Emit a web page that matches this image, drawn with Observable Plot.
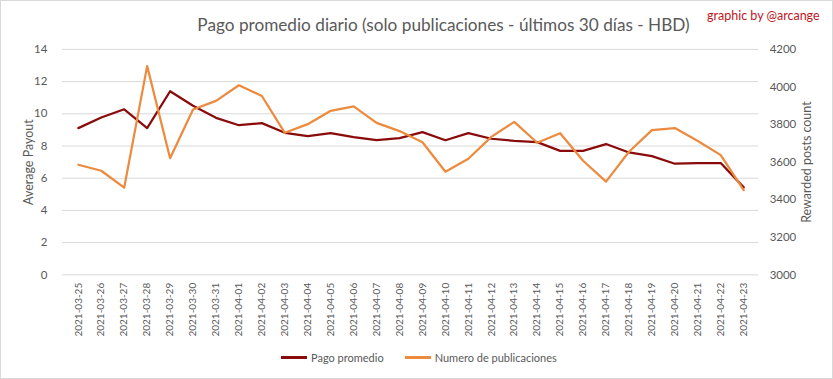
<!DOCTYPE html>
<html>
<head>
<meta charset="utf-8">
<script src="https://cdn.jsdelivr.net/npm/d3@7"></script>
<script src="https://cdn.jsdelivr.net/npm/@observablehq/plot@0.6"></script>
<style>
  html, body { margin: 0; padding: 0; background: #fff; }
  #wrap { position: relative; width: 833px; height: 379px; box-sizing: border-box; border: 1px solid #d9d9d9; overflow: hidden; font-family: Lato, "Open Sans", sans-serif; }
  #chart { position: absolute; left: -1px; top: -1px; }
  #title { position: absolute; left: 0; width: 885px; top: 13px; text-align: center; font-size: 17.2px; color: #595959; white-space: nowrap; }
  #sig { position: absolute; left: 706px; top: 7px; font-size: 12.5px; color: #c0161e; white-space: nowrap; }
  #legend { position: absolute; top: 350px; left: 280px; font-size: 11px; color: #595959; white-space: nowrap; display: flex; align-items: center; }
  .sw { display: inline-block; width: 26px; height: 2.5px; margin-right: 4px; }
  .item { display: flex; align-items: center; margin-right: 21px; }
</style>
</head>
<body>
<div id="wrap">
  <div id="chart"></div>
  <div id="title">Pago promedio diario (solo publicaciones - últimos 30 días - HBD)</div>
  <div id="sig">graphic by @arcange</div>
  <div id="legend">
    <span class="item"><span class="sw" style="background:#8a0b0b"></span>Pago promedio</span>
    <span class="item"><span class="sw" style="background:#ec8a3e"></span>Numero de publicaciones</span>
  </div>
</div>
<script>
const dates = ["2021-03-25","2021-03-26","2021-03-27","2021-03-28","2021-03-29","2021-03-30","2021-03-31",
  "2021-04-01","2021-04-02","2021-04-03","2021-04-04","2021-04-05","2021-04-06","2021-04-07","2021-04-08",
  "2021-04-09","2021-04-10","2021-04-11","2021-04-12","2021-04-13","2021-04-14","2021-04-15","2021-04-16",
  "2021-04-17","2021-04-18","2021-04-19","2021-04-20","2021-04-21","2021-04-22","2021-04-23"];
const pagoPromedio = [9.11, 9.77, 10.28, 9.11, 11.4, 10.5, 9.75, 9.29, 9.42, 8.82, 8.61, 8.8, 8.55, 8.36, 8.49,
  8.86, 8.36, 8.8, 8.45, 8.32, 8.24, 7.7, 7.7, 8.12, 7.6, 7.37, 6.9, 6.94, 6.94, 5.43];
const numeroPublicaciones = [3586, 3554, 3464, 4111, 3621, 3880, 3926, 4009, 3952, 3756, 3802, 3873, 3897, 3809, 3765,
  3706, 3549, 3618, 3734, 3814, 3703, 3754, 3607, 3496, 3655, 3770, 3781, 3712, 3637, 3451];
const leftTicks = [0, 2, 4, 6, 8, 10, 12, 14];
const rightTicks = [3000, 3200, 3400, 3600, 3800, 4000, 4200];
const leftMax = 14, rightMin = 3000, rightMax = 4200;
const toLeft = r => (r - rightMin) / (rightMax - rightMin) * leftMax;
const toRight = l => rightMin + l / leftMax * (rightMax - rightMin);

const data = dates.map((d, i) => ({date: d, pago: pagoPromedio[i], num: toLeft(numeroPublicaciones[i])}));

const chart = Plot.plot({
  width: 834, height: 380,
  marginTop: 49, marginBottom: 105, marginLeft: 62, marginRight: 74,
  style: {fontFamily: "Lato, 'Open Sans', sans-serif", fontSize: "12px", color: "#595959", background: "transparent"},
  x: {type: "point", domain: dates, padding: 0.5, label: null},
  y: {domain: [0, leftMax], label: null},
  marks: [
    Plot.ruleY(leftTicks, {stroke: "#d9d9d9", strokeWidth: 1}),
    Plot.axisY({ticks: leftTicks, tickSize: 0, tickPadding: 15, label: null, fontSize: 11.5}),
    Plot.axisY({anchor: "right", ticks: rightTicks.map(toLeft), tickFormat: v => String(Math.round(toRight(v))), tickSize: 0, tickPadding: 11, label: null, fontSize: 11.5}),
    Plot.axisX({tickRotate: -90, tickSize: 0, tickPadding: 8, label: null, fontSize: 10}),
    Plot.text(["Average Payout"], {frameAnchor: "left", textAnchor: "middle", lineAnchor: "middle", dx: -33, rotate: -90, fontSize: 12.5, fill: "#595959"}),
    Plot.text(["Rewarded posts count"], {frameAnchor: "right", textAnchor: "middle", lineAnchor: "middle", dx: 48, rotate: -90, fontSize: 12.5, fill: "#595959"}),
    Plot.line(data, {x: "date", y: "pago", stroke: "#8a0b0b", strokeWidth: 2.25}),
    Plot.line(data, {x: "date", y: "num", stroke: "#ec8a3e", strokeWidth: 2.25})
  ]
});
document.getElementById("chart").appendChild(chart);
</script>
</body>
</html>
